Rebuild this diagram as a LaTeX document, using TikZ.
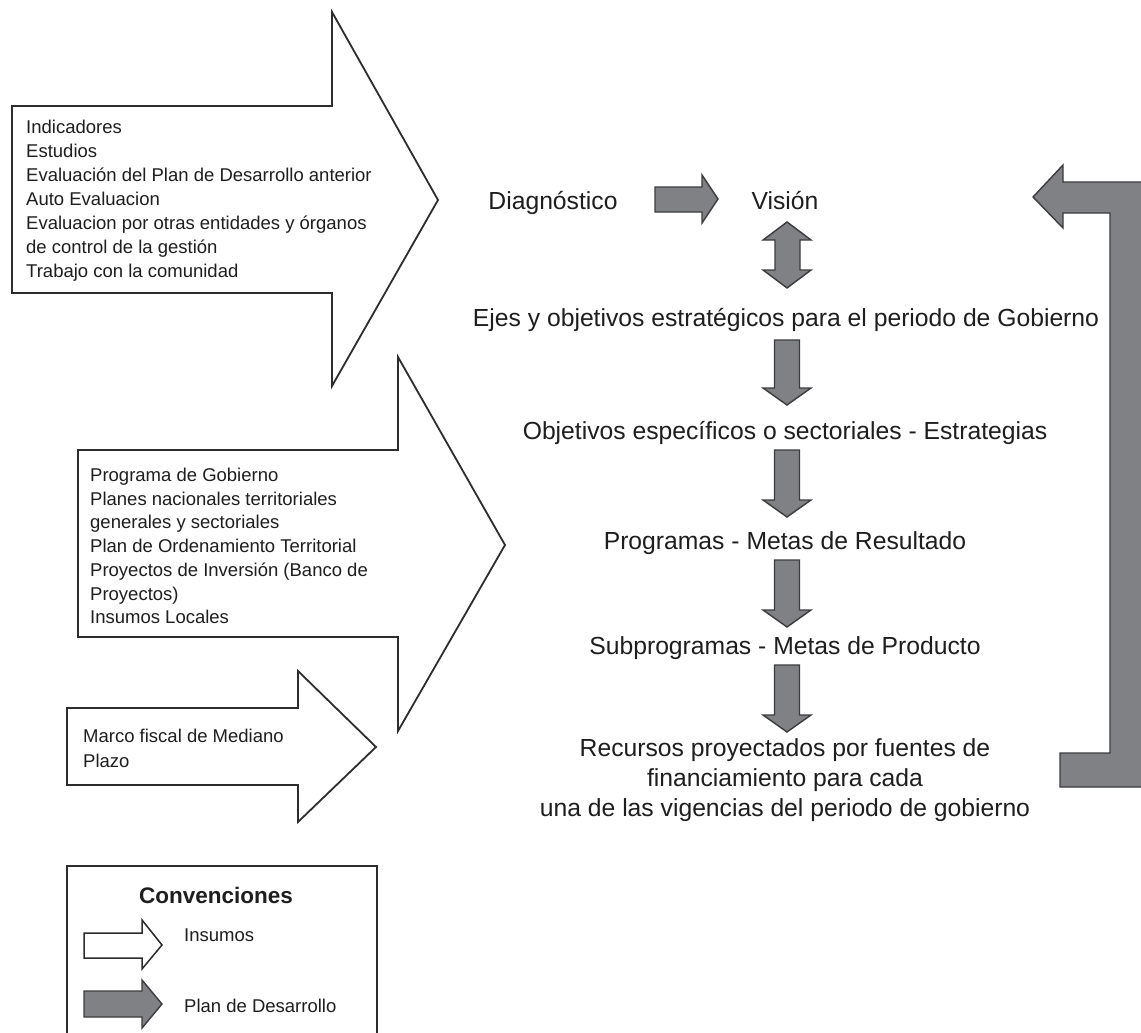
\documentclass[tikz,border=0pt]{standalone}
\usepackage{fontspec}
\setmainfont{Liberation Sans}
\definecolor{inkline}{RGB}{45,45,45}
\definecolor{planfill}{RGB}{128,129,133}
\definecolor{planline}{RGB}{60,60,62}
\definecolor{txt}{RGB}{30,30,30}

% vertical block arrow of the plan chain: #1 centre x, #2 top y, #3 tip y
\newcommand{\planDown}[3]{%
  \draw[plan] (#1-12.5,#2) -- (#1+12.5,#2) -- (#1+12.5,#3-17) -- (#1+24,#3-17)
    -- (#1,#3) -- (#1-24,#3-17) -- (#1-12.5,#3-17) -- cycle;}

\begin{document}
\begin{tikzpicture}[x=1pt,y=-1pt,
  insumo/.style={draw=inkline, fill=white, line width=1.8pt, line join=miter},
  plan/.style={draw=planline, fill=planfill, line width=1.4pt, line join=miter},
  smalltxt/.style={font=\fontsize{18.5}{24}\selectfont, text=txt, inner sep=0pt,
                   align=left, anchor=base west},
  flowtxt/.style={font=\fontsize{24.7}{30}\selectfont, text=txt, inner sep=0pt,
                  align=center, anchor=base},
]
\useasboundingbox (0,0) rectangle (1141,1033);
\fill[white] (0,0) rectangle (1141,1033);
\clip (0,0) rectangle (1141,1033);

% ---- input arrows (Insumos); multi-line texts are placed by their last baseline ----
\draw[insumo] (12,106) -- (332,106) -- (332,12) -- (438,200) -- (332,386)
  -- (332,293) -- (12,293) -- cycle;
\node[smalltxt] (ins1) at (26,277.5) {Indicadores\\Estudios\\
  Evaluación del Plan de Desarrollo anterior\\Auto Evaluacion\\
  Evaluacion por otras entidades y órganos\\de control de la gestión\\
  Trabajo con la comunidad};

\draw[insumo] (78,450) -- (398,450) -- (398,357) -- (505,545) -- (398,731)
  -- (398,637) -- (78,637) -- cycle;
\node[smalltxt, font=\fontsize{18.5}{23.7}\selectfont] (ins2) at (90,623.7)
  {Programa de Gobierno\\Planes nacionales territoriales\\
  generales y sectoriales\\Plan de Ordenamiento Territorial\\
  Proyectos de Inversión (Banco de\\Proyectos)\\Insumos Locales};

\draw[insumo] (67,708) -- (298,708) -- (298,671) -- (376,747) -- (298,822)
  -- (298,785) -- (67,785) -- cycle;
\node[smalltxt, font=\fontsize{18.5}{25}\selectfont] (ins3) at (83,767.5)
  {Marco fiscal de Mediano\\Plazo};

% ---- development plan chain ----
\node[flowtxt] (diag) at (553,209) {Diagnóstico};
\node[flowtxt] (vision) at (785,209) {Visión};
\draw[plan] (655,187) -- (702,187) -- (702,175) -- (718,199) -- (702,223)
  -- (702,212) -- (655,212) -- cycle;

\draw[plan] (787,222) -- (811,240) -- (800,240) -- (800,270) -- (811,270)
  -- (787,288) -- (763,270) -- (775,270) -- (775,240) -- (763,240) -- cycle;

\node[flowtxt] (ejes) at (786,326)
  {Ejes y objetivos estratégicos para el periodo de Gobierno};
\planDown{787}{340}{405}
\node[flowtxt] (objs) at (785,439)
  {Objetivos específicos o sectoriales - Estrategias};
\planDown{787}{450}{517}
\node[flowtxt] (progs) at (785,549) {Programas - Metas de Resultado};
\planDown{787}{560}{627}
\node[flowtxt] (subprogs) at (785,654) {Subprogramas - Metas de Producto};
\planDown{787}{665}{732}
\node[flowtxt] (recursos) at (785,816)
  {Recursos proyectados por fuentes de\\financiamiento para cada\\
   una de las vigencias del periodo de gobierno};

% feedback arrow back to the vision
\draw[plan] (1033,197) -- (1063,165) -- (1063,182) -- (1160,182) -- (1160,787)
  -- (1060,787) -- (1060,753) -- (1110,753) -- (1110,213) -- (1063,213)
  -- (1063,228) -- cycle;

% ---- legend ----
\draw[draw=inkline, line width=1.6pt] (67,866) rectangle (377,1045);
\node[font=\fontsize{22.5}{27}\selectfont\bfseries, text=txt, inner sep=0pt,
      anchor=base] (conv) at (216,903) {Convenciones};
\draw[insumo, line width=1.5pt] (84,933) -- (142,933) -- (142,920) -- (162,945)
  -- (142,969) -- (142,958) -- (84,958) -- cycle;
\node[smalltxt] (leg1) at (184,941) {Insumos};
\draw[plan] (84,991) -- (142,991) -- (142,980) -- (162,1004) -- (142,1028)
  -- (142,1017) -- (84,1017) -- cycle;
\node[smalltxt] (leg2) at (184,1012.5) {Plan de Desarrollo};
\end{tikzpicture}
\end{document}
